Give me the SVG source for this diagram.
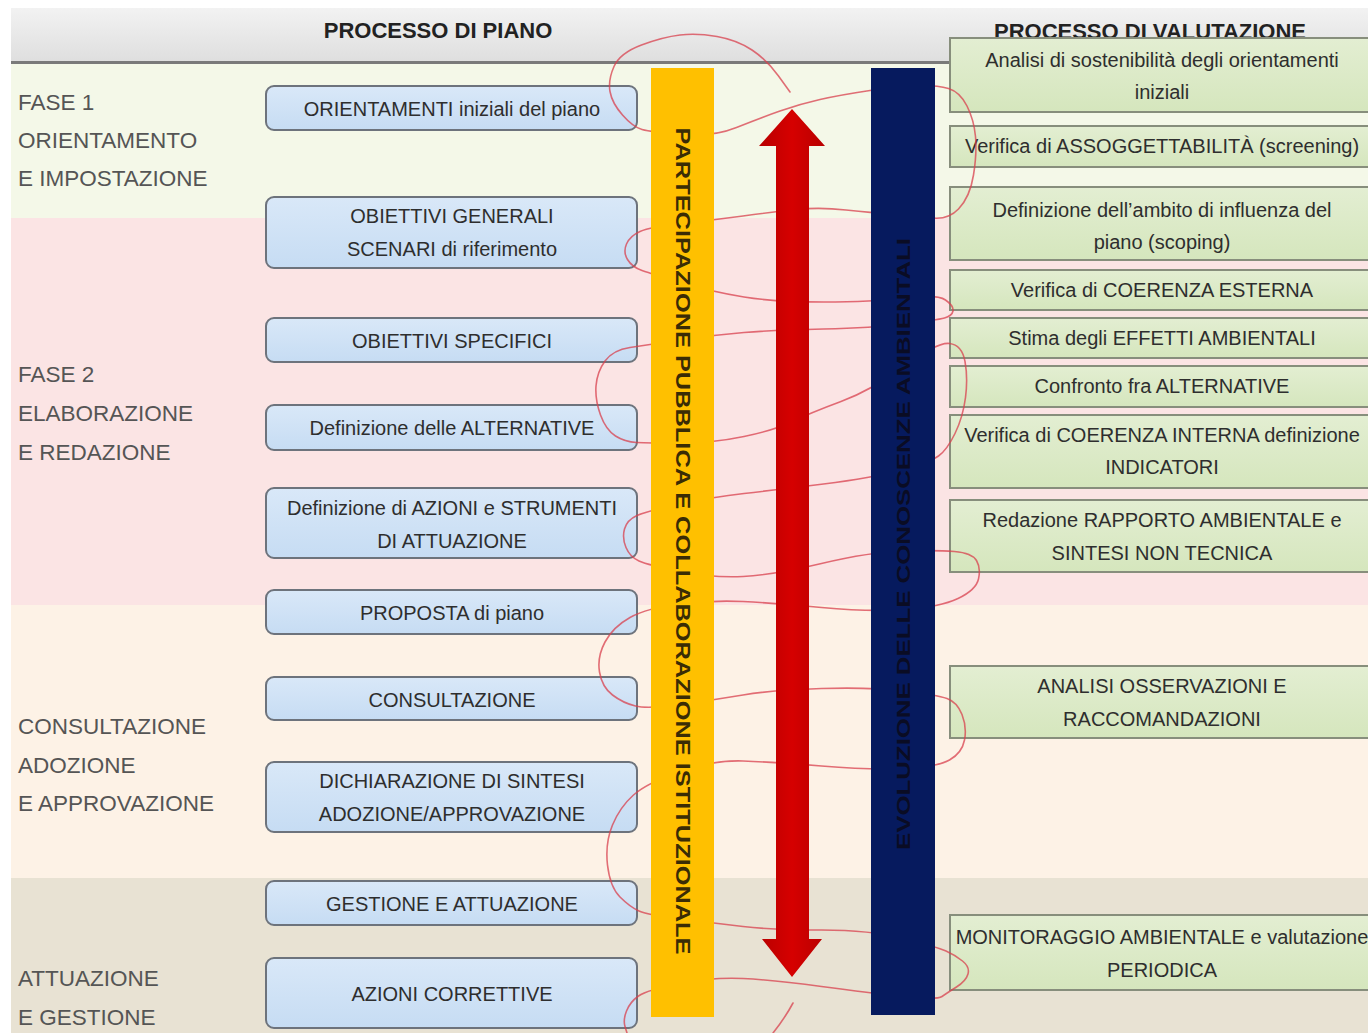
<svg xmlns="http://www.w3.org/2000/svg" width="1368" height="1033" viewBox="0 0 1368 1033">
<defs>
<linearGradient id="hdr" x1="0" y1="0" x2="0" y2="1"><stop offset="0" stop-color="#f2f2f2"/><stop offset="1" stop-color="#dedede"/></linearGradient>
<linearGradient id="blue" x1="0" y1="0" x2="0" y2="1"><stop offset="0" stop-color="#d9e8f8"/><stop offset="1" stop-color="#c6dcf3"/></linearGradient>
<linearGradient id="green" x1="0" y1="0" x2="0" y2="1"><stop offset="0" stop-color="#e3eed2"/><stop offset="1" stop-color="#d5e6bd"/></linearGradient>
<linearGradient id="redg" x1="0" y1="0" x2="1" y2="0"><stop offset="0" stop-color="#b80000"/><stop offset="0.5" stop-color="#d60000"/><stop offset="1" stop-color="#b80000"/></linearGradient>
</defs>
<style>
.phase{font-family:"Liberation Sans",Arial,sans-serif;font-size:22.5px;fill:#555}
.hdrt{font-family:"Liberation Sans",Arial,sans-serif;font-size:22px;font-weight:bold;fill:#222;text-anchor:middle}
.lbox{fill:url(#blue);stroke:#6d737c;stroke-width:2}
.rbox{fill:url(#green);stroke:#878e7c;stroke-width:2}
.lt{font-family:"Liberation Sans",Arial,sans-serif;font-size:20px;fill:#2e2e2e;text-anchor:middle}
.rt{font-family:"Liberation Sans",Arial,sans-serif;font-size:20px;fill:#2e2e2e;text-anchor:middle}
.vt{font-family:"Liberation Sans",Arial,sans-serif;font-weight:bold;text-anchor:middle;dominant-baseline:central}
.conn{fill:none;stroke:#d8404e;stroke-opacity:0.75;stroke-width:1.6;stroke-linecap:round;stroke-linejoin:round}
</style>
<rect x="0" y="0" width="1368" height="1033" fill="#ffffff"/>
<g id="bands">
<rect x="11" y="8" width="1357" height="55" fill="url(#hdr)"/>
<rect x="11" y="64" width="1357" height="154" fill="#f4f8e8"/>
<rect x="11" y="218" width="1357" height="387" fill="#fbe4e4"/>
<rect x="11" y="605" width="1357" height="273" fill="#fdf2e6"/>
<rect x="11" y="878" width="1357" height="155" fill="#e8e2d3"/>
<rect x="11" y="61" width="1357" height="3" fill="#7a7a7a"/>
<text class="hdrt" x="438" y="38">PROCESSO DI PIANO</text>
<text class="hdrt" x="1150" y="39">PROCESSO DI VALUTAZIONE</text>
</g>
<g id="phases">
<text class="phase" x="18" y="110">FASE 1</text>
<text class="phase" x="18" y="148">ORIENTAMENTO</text>
<text class="phase" x="18" y="186">E IMPOSTAZIONE</text>
<text class="phase" x="18" y="382">FASE 2</text>
<text class="phase" x="18" y="421">ELABORAZIONE</text>
<text class="phase" x="18" y="460">E REDAZIONE</text>
<text class="phase" x="18" y="734">CONSULTAZIONE</text>
<text class="phase" x="18" y="773">ADOZIONE</text>
<text class="phase" x="18" y="811">E APPROVAZIONE</text>
<text class="phase" x="18" y="986">ATTUAZIONE</text>
<text class="phase" x="18" y="1025">E GESTIONE</text>
</g>
<g id="p1"><rect class="lbox" x="266" y="86" width="371" height="44" rx="8"/><text class="lt" x="452" y="116">ORIENTAMENTI iniziali del piano</text></g>
<g id="p2"><rect class="lbox" x="266" y="197" width="371" height="71" rx="8"/><text class="lt" x="452" y="223">OBIETTIVI GENERALI</text><text class="lt" x="452" y="256">SCENARI di riferimento</text></g>
<g id="p3"><rect class="lbox" x="266" y="318" width="371" height="44" rx="8"/><text class="lt" x="452" y="348">OBIETTIVI SPECIFICI</text></g>
<g id="p4"><rect class="lbox" x="266" y="405" width="371" height="45" rx="8"/><text class="lt" x="452" y="435">Definizione delle ALTERNATIVE</text></g>
<g id="p5"><rect class="lbox" x="266" y="488" width="371" height="70" rx="8"/><text class="lt" x="452" y="515">Definizione di AZIONI e STRUMENTI</text><text class="lt" x="452" y="548">DI ATTUAZIONE</text></g>
<g id="p6"><rect class="lbox" x="266" y="590" width="371" height="44" rx="8"/><text class="lt" x="452" y="620">PROPOSTA di piano</text></g>
<g id="p7"><rect class="lbox" x="266" y="677" width="371" height="43" rx="8"/><text class="lt" x="452" y="707">CONSULTAZIONE</text></g>
<g id="p8"><rect class="lbox" x="266" y="762" width="371" height="70" rx="8"/><text class="lt" x="452" y="788">DICHIARAZIONE DI SINTESI</text><text class="lt" x="452" y="821">ADOZIONE/APPROVAZIONE</text></g>
<g id="p9"><rect class="lbox" x="266" y="881" width="371" height="44" rx="8"/><text class="lt" x="452" y="911">GESTIONE E ATTUAZIONE</text></g>
<g id="p10"><rect class="lbox" x="266" y="958" width="371" height="70" rx="8"/><text class="lt" x="452" y="1001">AZIONI CORRETTIVE</text></g>
<g id="v1"><rect class="rbox" x="950" y="38" width="430" height="74"/><text class="rt" x="1162" y="67">Analisi di sostenibilità degli orientamenti</text><text class="rt" x="1162" y="99">iniziali</text></g>
<g id="v2"><rect class="rbox" x="950" y="126" width="430" height="41"/><text class="rt" x="1162" y="153">Verifica di ASSOGGETTABILITÀ (screening)</text></g>
<g id="v3"><rect class="rbox" x="950" y="187" width="430" height="73"/><text class="rt" x="1162" y="217">Definizione dell’ambito di influenza del</text><text class="rt" x="1162" y="249">piano (scoping)</text></g>
<g id="v4"><rect class="rbox" x="950" y="270" width="430" height="40"/><text class="rt" x="1162" y="297">Verifica di COERENZA ESTERNA</text></g>
<g id="v5"><rect class="rbox" x="950" y="318" width="430" height="40"/><text class="rt" x="1162" y="345">Stima degli EFFETTI AMBIENTALI</text></g>
<g id="v6"><rect class="rbox" x="950" y="366" width="430" height="41"/><text class="rt" x="1162" y="393">Confronto fra ALTERNATIVE</text></g>
<g id="v7"><rect class="rbox" x="950" y="415" width="430" height="73"/><text class="rt" x="1162" y="442">Verifica di COERENZA INTERNA definizione</text><text class="rt" x="1162" y="474">INDICATORI</text></g>
<g id="v8"><rect class="rbox" x="950" y="500" width="430" height="72"/><text class="rt" x="1162" y="527">Redazione RAPPORTO AMBIENTALE e</text><text class="rt" x="1162" y="560">SINTESI NON TECNICA</text></g>
<g id="v9"><rect class="rbox" x="950" y="666" width="430" height="72"/><text class="rt" x="1162" y="693">ANALISI OSSERVAZIONI E</text><text class="rt" x="1162" y="726">RACCOMANDAZIONI</text></g>
<g id="v10"><rect class="rbox" x="950" y="915" width="430" height="75"/><text class="rt" x="1162" y="944">MONITORAGGIO AMBIENTALE e valutazione</text><text class="rt" x="1162" y="977">PERIODICA</text></g>
<g id="connectors">
<path class="conn" d="M790,92 L778.5,76 Q767,60 752,50 Q737,40 717,36.5 Q697,33 680,35 Q663,37 641.5,45 Q620,53 614,66.5 Q608,80 610,91.5 Q612,103 622.5,115 Q633,127 642,129.5 Q651,132 682,134.5 Q713,137 736.5,127.5 Q760,118 780,111 Q800,104 820,99.5 Q840,95 870,90.5 Q900,86 918.5,85.5 Q937,85 948.5,88.5 Q960,92 967,106 Q974,120 975.5,136.5 Q977,153 973.5,175 Q970,197 958.5,209 Q947,221 928.5,217.5 Q910,214 891,213.5 Q872,213 846,210 Q820,207 796.5,209.5 Q773,212 743,216 Q713,220 681.5,223.5 Q650,227 640,231.5 Q630,236 626.5,244 Q623,252 627.5,259.5 Q632,267 642,270.5 Q652,274 682.5,283 Q713,292 744,297 Q775,302 823.5,302 Q872,302 904.5,298 Q937,294 945.5,300 Q954,306 953,311 Q952,316 944.5,318 Q937,320 904.5,324 Q872,328 823.5,329 Q775,330 744,332.5 Q713,335 680,340 Q647,345 630,347.5 Q613,350 605,361 Q597,372 596,386 Q595,400 600.5,415 Q606,430 615.5,436 Q625,442 636.5,442.5 Q648,443 680.5,443 Q713,443 744,436.5 Q775,430 792.5,421.5 Q810,413 841,401.5 Q872,390 904.5,366 Q937,342 949.5,343.5 Q962,345 965,361.5 Q968,378 965.5,397.5 Q963,417 955,433.5 Q947,450 938.5,456 Q930,462 901,470 Q872,478 823.5,484 Q775,490 744,493.5 Q713,497 680,504 Q647,511 637,515.5 Q627,520 624.5,529 Q622,538 626,547.5 Q630,557 639,561 Q648,565 680.5,571.5 Q713,578 743,576.5 Q773,575 821.5,563.5 Q870,552 903.5,551 Q937,550 954.5,551.5 Q972,553 976.5,560.5 Q981,568 978.5,579 Q976,590 958,598.5 Q940,607 905,609.5 Q870,612 821.5,607.5 Q773,603 743,601.5 Q713,600 680,604 Q647,608 630,617.5 Q613,627 605,642 Q597,657 599.5,672 Q602,687 612.5,695 Q623,703 635.5,706 Q648,709 680.5,704.5 Q713,700 743,695 Q773,690 821.5,688.5 Q870,687 903.5,691 Q937,695 947,698.5 Q957,702 962,714.5 Q967,727 964.5,740 Q962,753 949.5,760 Q937,767 903.5,768.5 Q870,770 821.5,766 Q773,762 743,761 Q713,760 680,771.5 Q647,783 633.5,795 Q620,807 612.5,825 Q605,843 607.5,865 Q610,887 620,897 Q630,907 639,911 Q648,915 680.5,919 Q713,923 743,926.5 Q773,930 821.5,930 Q870,930 903.5,938.5 Q937,947 946,951 Q955,955 962.5,961 Q970,967 968,974 Q966,981 956.5,987 Q947,993 942,996.5 Q937,1000 903.5,996.5 Q870,993 821.5,986.5 Q773,980 743,978.5 Q713,977 680,983.5 Q647,990 638.5,996 Q630,1002 626.5,1011 Q623,1020 625,1026.5 L627,1033"/>
<path class="conn" d="M793,1003 Q785,1018 773,1033"/>
</g>
<g id="partecipazione">
<rect x="651" y="68" width="63" height="949" fill="#ffc000"/>
<text class="vt" transform="translate(683,541) rotate(90)" font-size="20" fill="#3a2c05" textLength="827" lengthAdjust="spacingAndGlyphs">PARTECIPAZIONE PUBBLICA E COLLABORAZIONE ISTITUZIONALE</text>
</g>
<g id="freccia">
<polygon points="792,109 825,146 809,146 809,939 822,939 792,977 762,939 776,939 776,146 759,146" fill="url(#redg)"/>
</g>
<g id="conoscenze">
<rect x="871" y="68" width="64" height="947" fill="#061a5e"/>
<text class="vt" transform="translate(903,544) rotate(-90)" font-size="19" fill="#0a0c24" textLength="612" lengthAdjust="spacingAndGlyphs">EVOLUZIONE DELLE CONOSCENZE AMBIENTALI</text>
</g>
</svg>
